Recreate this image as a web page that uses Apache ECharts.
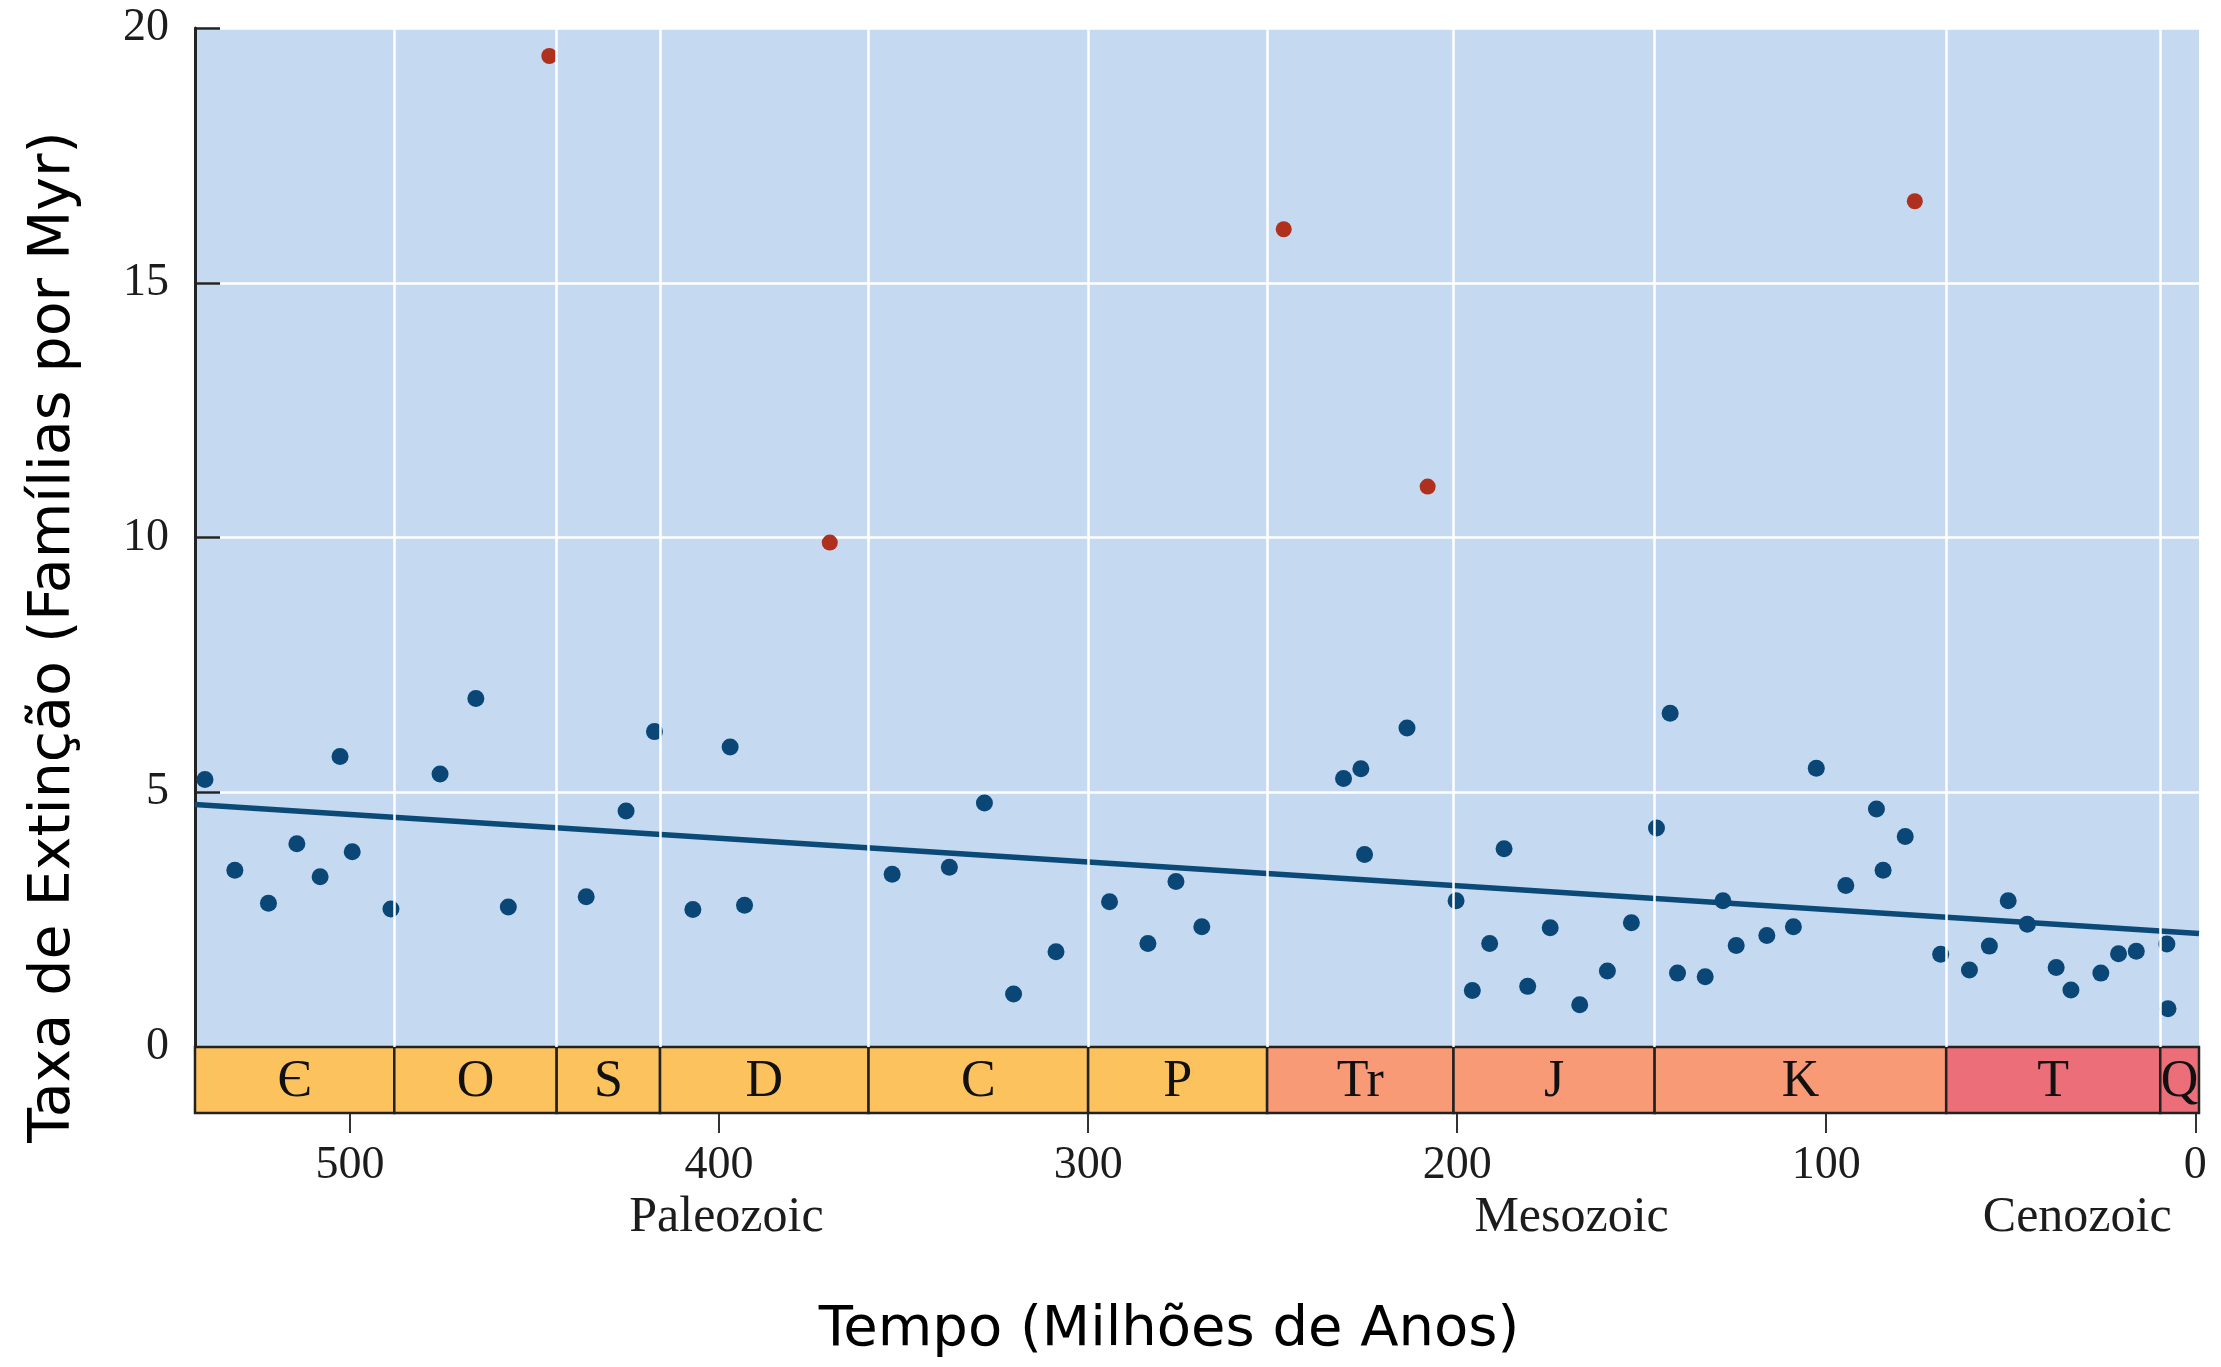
<!DOCTYPE html>
<html>
<head>
<meta charset="utf-8">
<script src="https://cdn.jsdelivr.net/npm/echarts@6/dist/echarts.min.js"></script>
<style>
html,body{margin:0;padding:0;background:#fff;}
#chart{width:2221px;height:1367px;}
</style>
</head>
<body>
<div id="chart"></div>
<script>
// ---- data ----
const blueAge = [539.3, 531.2, 522.1, 514.4, 508.1, 502.7, 499.4, 488.9, 475.6, 465.9, 457.1, 436.0, 425.2, 417.5, 407.1, 397.0, 393.1, 353.1, 337.6, 328.1, 320.2, 308.7, 294.2, 283.8, 276.2, 269.2, 230.8, 226.1, 225.1, 213.6, 200.3, 195.9, 191.2, 187.3, 180.9, 174.8, 166.8, 159.3, 152.8, 146.0, 142.3, 140.3, 132.8, 128.0, 124.4, 116.1, 108.9, 102.7, 94.7, 86.4, 84.6, 78.6, 69.0, 61.2, 55.8, 50.7, 45.5, 37.7, 33.7, 25.6, 20.8, 16.0, 7.7, 7.4];
const blueRate = [5.25, 3.47, 2.82, 3.99, 3.34, 5.70, 3.83, 2.71, 5.36, 6.84, 2.75, 2.95, 4.63, 6.19, 2.70, 5.89, 2.78, 3.39, 3.53, 4.79, 1.04, 1.87, 2.85, 2.03, 3.25, 2.36, 5.27, 5.46, 3.78, 6.26, 2.87, 1.11, 2.03, 3.89, 1.19, 2.34, 0.83, 1.49, 2.44, 4.30, 6.55, 1.45, 1.38, 2.87, 1.99, 2.19, 2.36, 5.47, 3.17, 4.67, 3.47, 4.13, 1.82, 1.51, 1.98, 2.87, 2.41, 1.56, 1.12, 1.45, 1.83, 1.88, 2.02, 0.75];
const redAge = [446, 370, 247, 208, 76];
const redRate = [19.45, 9.9, 16.05, 11.0, 16.6];
const trendAge = [542, -1];
const trendRate = [4.76, 2.23];

const periodNames = ['Є', 'O', 'S', 'D', 'C', 'P', 'Tr', 'J', 'K', 'T', 'Q'];
const periodStart = [542, 488, 444, 416, 359.5, 300, 251.5, 201, 146.5, 67.5, 9.5];
const periodEnd   = [488, 444, 416, 359.5, 300, 251.5, 201, 146.5, 67.5, 9.5, -1];
const periodEra   = [0, 0, 0, 0, 0, 0, 1, 1, 1, 2, 2];

const eraNames = ['Paleozoic', 'Mesozoic', 'Cenozoic'];
const eraCenters = [398, 169, 32];

const xTickValues = [0, 100, 200, 300, 400, 500];

// ---- styles ----
const eraColors = ['#FCC25E', '#F99A77', '#EB6E79'];
const serif = '"Liberation Serif", "DejaVu Serif", serif';
const sans = '"DejaVu Sans", "Noto Sans", sans-serif';
const dark = '#1c1c1c';

const chart = echarts.init(document.getElementById('chart'), null, {renderer: 'canvas'});

const option = {
  backgroundColor: '#ffffff',
  animation: false,
  grid: [
    {left: 195, right: 22, top: 28, bottom: 320, show: true, backgroundColor: '#C5D9F0', borderWidth: 0},
    {left: 195, right: 22, top: 1047, bottom: 254, show: false}
  ],
  xAxis: [
    {
      gridIndex: 0, type: 'value', inverse: true, min: -1, max: 542,
      axisLine: {show: false, onZero: false}, axisTick: {show: false}, axisLabel: {show: false},
      splitLine: {show: false}
    },
    {
      gridIndex: 1, type: 'value', inverse: true, min: -1, max: 542, position: 'bottom',
      axisLine: {show: false, onZero: false},
      axisTick: {show: true, customValues: xTickValues, length: 20, lineStyle: {color: '#333', width: 2}},
      axisLabel: {show: true, customValues: xTickValues, margin: 30, fontFamily: serif, fontSize: 46, color: dark},
      splitLine: {show: false}
    }
  ],
  yAxis: [
    {
      gridIndex: 0, type: 'value', min: 0, max: 20, interval: 5, position: 'left',
      axisLine: {show: true, onZero: false, lineStyle: {color: '#222', width: 3}},
      axisTick: {show: true, inside: true, length: 25, lineStyle: {color: '#222', width: 2.5}},
      axisLabel: {show: true, margin: 26, fontFamily: serif, fontSize: 46, color: dark},
      splitLine: {show: true, lineStyle: {color: '#ffffff', width: 2.5}}
    },
    {
      gridIndex: 1, type: 'value', min: 0, max: 1, position: 'left',
      axisLine: {show: false, onZero: false}, axisTick: {show: false}, axisLabel: {show: false}, splitLine: {show: false}
    }
  ],
  graphic: [
    {
      type: 'text', x: 54, y: 637, rotation: Math.PI / 2,
      style: {text: 'Taxa de Extinção (Famílias por Myr)', font: '57px ' + sans, fill: '#000', align: 'center', verticalAlign: 'middle'}
    },
    {
      type: 'text', x: 1169, y: 1330,
      style: {text: 'Tempo (Milhões de Anos)', font: '56px ' + sans, fill: '#000', align: 'center', verticalAlign: 'middle'}
    }
  ],
  series: [
    {
      // vertical white grid lines at period boundaries
      type: 'line', xAxisIndex: 0, yAxisIndex: 0, data: [], z: 1, silent: true,
      markLine: {
        silent: true, symbol: ['none', 'none'], label: {show: false},
        lineStyle: {color: '#ffffff', width: 2.5, type: 'solid', opacity: 1},
        data: periodStart.slice(1).map(v => ({xAxis: v}))
      }
    },
    {
      type: 'line', xAxisIndex: 0, yAxisIndex: 0, z: 2,
      data: trendAge.map((a, i) => [a, trendRate[i]]),
      showSymbol: false, lineStyle: {color: '#0B4977', width: 5.5}
    },
    {
      type: 'scatter', xAxisIndex: 0, yAxisIndex: 0, z: 3,
      data: blueAge.map((a, i) => [a, blueRate[i]]),
      symbol: 'circle', symbolSize: 17, itemStyle: {color: '#0A4777', opacity: 1}
    },
    {
      type: 'scatter', xAxisIndex: 0, yAxisIndex: 0, z: 3,
      data: redAge.map((a, i) => [a, redRate[i]]),
      symbol: 'circle', symbolSize: 16, itemStyle: {color: '#B0301E', opacity: 1}
    },
    {
      // geological period band
      type: 'custom', xAxisIndex: 1, yAxisIndex: 1, z: 4, silent: true,
      data: periodStart.map((s, i) => [s, periodEnd[i]]),
      renderItem: function (params, api) {
        const i = params.dataIndex;
        const p0 = api.coord([api.value(0), 1]);
        const p1 = api.coord([api.value(1), 0]);
        const x0 = Math.min(p0[0], p1[0]);
        const w = Math.abs(p1[0] - p0[0]);
        return {
          type: 'group',
          children: [
            {type: 'rect', shape: {x: x0, y: p0[1], width: w, height: p1[1] - p0[1]},
             style: {fill: eraColors[periodEra[i]], stroke: '#222', lineWidth: 2.5}},
            {type: 'text', x: x0 + w / 2, y: (p0[1] + p1[1]) / 2 + 2,
             style: {text: periodNames[i], font: '52px ' + serif, fill: '#111', align: 'center', verticalAlign: 'middle'}}
          ]
        };
      }
    },
    {
      // era names below the axis
      type: 'custom', xAxisIndex: 1, yAxisIndex: 1, z: 4, silent: true,
      data: eraCenters.map(c => [c]),
      renderItem: function (params, api) {
        const p = api.coord([api.value(0), 0]);
        return {type: 'text', x: p[0], y: p[1] + 105,
          style: {text: eraNames[params.dataIndex], font: '50px ' + serif, fill: dark, align: 'center', verticalAlign: 'middle'}};
      }
    }
  ]
};
chart.setOption(option);
</script>
</body>
</html>
